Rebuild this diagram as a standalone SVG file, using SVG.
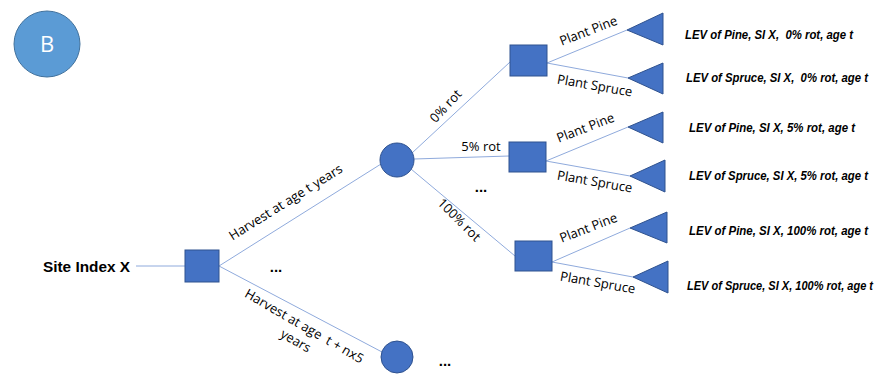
<svg xmlns="http://www.w3.org/2000/svg" width="888" height="374" viewBox="0 0 888 374">
<style>
.sq{fill:#4472C4;stroke:#2F528F;stroke-width:1}
.ch{fill:#4472C4;stroke:#2F528F;stroke-width:1}
.tr{fill:#4472C4;stroke:#2F528F;stroke-width:1}
.ln{stroke:#8FAADC;stroke-width:1;fill:none}
.lb{font-family:"Open Sans","Liberation Sans",sans-serif;font-size:13px;fill:#000}
.lev{font-family:"Liberation Sans",Arial,sans-serif;font-size:12px;font-weight:bold;font-style:italic;fill:#000}
.dots{font-family:"Liberation Sans",Arial,sans-serif;font-size:15px;font-weight:bold;fill:#000}
</style>
<rect width="888" height="374" fill="#fff"/>
<g id="badge">
<circle cx="47" cy="44" r="33" fill="#5B9BD5" stroke="#41719C" stroke-width="1"/>
<text x="47" y="52" text-anchor="middle" font-family="'Open Sans','Liberation Sans',sans-serif" font-size="22" fill="#fff">B</text>
</g>
<g id="connectors">
<line class="ln" x1="136" y1="266" x2="185" y2="266"/>
<line class="ln" x1="219" y1="266" x2="381" y2="164"/>
<line class="ln" x1="219" y1="266" x2="382" y2="352"/>
<line class="ln" x1="412" y1="153" x2="510" y2="62"/>
<line class="ln" x1="414" y1="159" x2="509" y2="156"/>
<line class="ln" x1="411" y1="169" x2="515" y2="256"/>
<line class="ln" x1="547" y1="63" x2="627" y2="30"/>
<line class="ln" x1="547" y1="63" x2="628" y2="78"/>
<line class="ln" x1="546" y1="161" x2="628" y2="127"/>
<line class="ln" x1="546" y1="161" x2="630" y2="176"/>
<line class="ln" x1="552" y1="262" x2="630" y2="228"/>
<line class="ln" x1="552" y1="262" x2="633" y2="277"/>
</g>
<g id="root">
<text x="86.5" y="272" text-anchor="middle" font-family="'Liberation Sans',Arial,sans-serif" font-size="14" font-weight="bold" textLength="87" lengthAdjust="spacingAndGlyphs">Site Index X</text>
</g>
<g id="decision1"><rect class="sq" x="185" y="250" width="34" height="32"/></g>
<g id="chance1"><circle class="ch" cx="397" cy="160" r="17"/></g>
<g id="chance2"><circle class="ch" cx="397" cy="357" r="16"/></g>
<g id="dec0"><rect class="sq" x="510" y="45" width="37" height="31"/></g>
<g id="dec5"><rect class="sq" x="509" y="142" width="37" height="30"/></g>
<g id="dec100"><rect class="sq" x="515" y="241" width="37" height="30"/></g>
<g id="tri1"><polygon class="tr" points="627,30 663,13 663,45"/></g>
<g id="tri2"><polygon class="tr" points="628,78 663,63 663,94"/></g>
<g id="tri3"><polygon class="tr" points="628,127 663,112 663,143"/></g>
<g id="tri4"><polygon class="tr" points="630,176 665,160 665,192"/></g>
<g id="tri5"><polygon class="tr" points="630,228 667,212 667,243"/></g>
<g id="tri6"><polygon class="tr" points="633,277 668,261 668,293"/></g>
<g id="labels">
<text class="lb" text-anchor="middle" transform="translate(288,206) rotate(-32)">Harvest at age t years</text>
<g transform="translate(302,330) rotate(30)">
<text class="lb" text-anchor="middle" x="0" y="0" xml:space="preserve">Harvest at age  t + nx5</text>
<text class="lb" text-anchor="middle" x="0" y="17">years</text>
</g>
<text class="lb" text-anchor="middle" transform="translate(449,109) rotate(-47)">0% rot</text>
<text class="lb" text-anchor="middle" x="481" y="151">5% rot</text>
<text class="lb" text-anchor="middle" transform="translate(456,223) rotate(45)">100% rot</text>
<text class="lb" text-anchor="middle" transform="translate(590,35) rotate(-21)">Plant Pine</text>
<text class="lb" text-anchor="middle" transform="translate(594,90) rotate(10)">Plant Spruce</text>
<text class="lb" text-anchor="middle" transform="translate(587,132) rotate(-21)">Plant Pine</text>
<text class="lb" text-anchor="middle" transform="translate(594,186) rotate(10)">Plant Spruce</text>
<text class="lb" text-anchor="middle" transform="translate(590,232) rotate(-21)">Plant Pine</text>
<text class="lb" text-anchor="middle" transform="translate(597,287) rotate(10)">Plant Spruce</text>
<text class="dots" x="276" y="272" text-anchor="middle">...</text>
<text class="dots" x="481" y="192" text-anchor="middle">...</text>
<text class="dots" x="445" y="366" text-anchor="middle">...</text>
</g>
<g id="outcomes">
<text class="lev" x="685" y="39" textLength="168" lengthAdjust="spacingAndGlyphs" xml:space="preserve">LEV of Pine, SI X,  0% rot, age t</text>
<text class="lev" x="686" y="82" textLength="182" lengthAdjust="spacingAndGlyphs" xml:space="preserve">LEV of Spruce, SI X,  0% rot, age t</text>
<text class="lev" x="689" y="132" textLength="166" lengthAdjust="spacingAndGlyphs">LEV of Pine, SI X, 5% rot, age t</text>
<text class="lev" x="689" y="180" textLength="179" lengthAdjust="spacingAndGlyphs">LEV of Spruce, SI X, 5% rot, age t</text>
<text class="lev" x="689" y="235" textLength="179" lengthAdjust="spacingAndGlyphs">LEV of Pine, SI X, 100% rot, age t</text>
<text class="lev" x="687" y="290" font-size="10.5" textLength="186" lengthAdjust="spacingAndGlyphs">LEV of Spruce, SI X, 100% rot, age t</text>
</g>
</svg>
